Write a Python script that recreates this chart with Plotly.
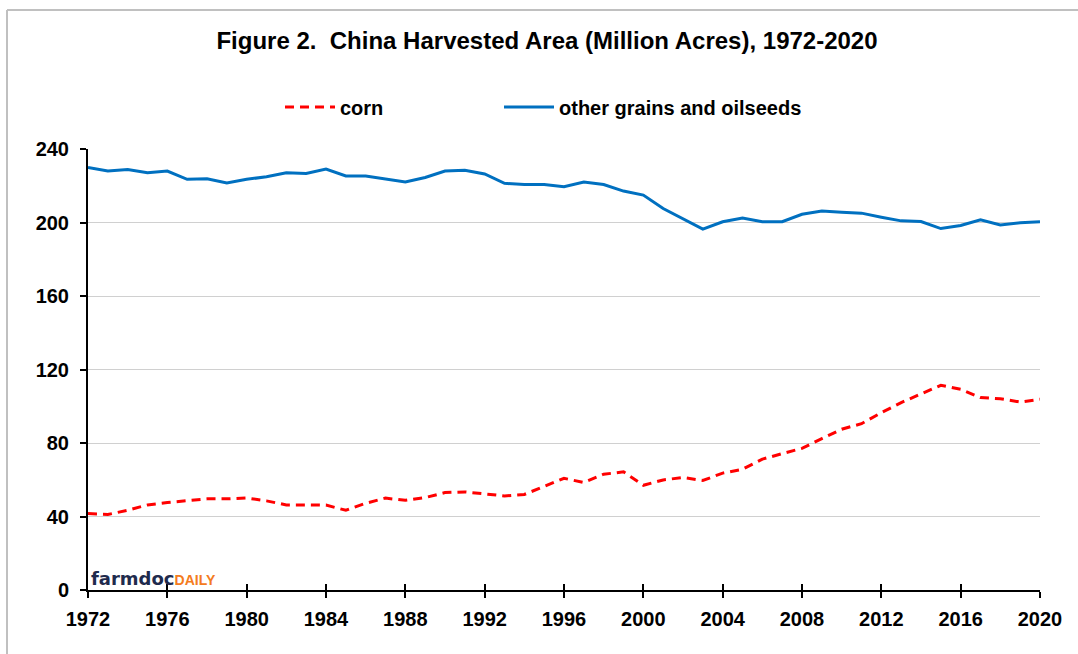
import plotly.graph_objects as go

years = list(range(1972, 2021))
corn = [41.6, 41.1, 43.4, 46.3, 47.6, 48.7, 49.6, 49.6, 50.1, 48.5,
        46.3, 46.3, 46.2, 43.4, 47.2, 50.0, 48.8, 50.3, 53.0, 53.4,
        52.1, 51.2, 52.0, 56.3, 60.8, 58.5, 63.0, 64.3, 57.0, 59.9,
        61.2, 59.6, 63.6, 65.7, 71.2, 74.2, 77.1, 82.4, 87.5, 90.5,
        96.5, 102.0, 106.5, 111.4, 109.2, 104.7, 104.1, 102.3, 103.8]
other = [230.0, 228.0, 228.9, 227.1, 228.0, 223.5, 223.8, 221.5, 223.5, 224.9,
         227.1, 226.7, 229.1, 225.3, 225.3, 223.6, 222.0, 224.5, 228.0, 228.4,
         226.4, 221.3, 220.7, 220.7, 219.5, 222.0, 220.7, 217.1, 214.9, 207.6,
         202.0, 196.4, 200.4, 202.4, 200.4, 200.4, 204.5, 206.2, 205.6, 205.1,
         202.9, 200.9, 200.5, 196.7, 198.4, 201.5, 198.7, 199.8, 200.4]
x_ticks = list(range(1972, 2021, 4))
y_ticks = list(range(0, 241, 40))

FONT = "Arial, Liberation Sans, sans-serif"
W, H = 1078, 654
L, R, T, B = 88, 38, 149, 64
pw, ph = W - L - R, H - T - B

fig = go.Figure()
fig.add_trace(go.Scatter(x=years, y=corn, name="corn", mode="lines",
                         line=dict(color="#FF0000", width=3, dash="9px,6px"),
                         legend="legend"))
fig.add_trace(go.Scatter(x=years, y=other, name="other grains and oilseeds", mode="lines",
                         line=dict(color="#0070C0", width=3),
                         legend="legend2"))
# invisible trace to carry the inside-tick overlay axis
fig.add_trace(go.Scatter(x=[years[0]], y=[corn[0]], xaxis="x2", mode="lines",
                         showlegend=False, hoverinfo="skip", opacity=0))

bold = dict(family=FONT, color="black", weight="bold")
fig.update_layout(
    width=W, height=H,
    margin=dict(l=L, r=R, t=T, b=B),
    paper_bgcolor="white", plot_bgcolor="white",
    font=dict(family=FONT, color="black"),
    title=dict(text="<b>Figure 2.  China Harvested Area (Million Acres), 1972-2020</b>",
               x=547 / W, xanchor="center", xref="container",
               y=1 - 41 / H, yanchor="middle", yref="container",
               font=dict(size=24, family=FONT, color="black")),
    xaxis=dict(range=[1972, 2020], tickmode="array", tickvals=x_ticks,
               ticks="outside", ticklen=6, tickwidth=2, tickcolor="black",
               showline=True, linecolor="black", linewidth=2,
               showgrid=False, zeroline=False,
               tickfont=dict(size=20, **bold),
               ticklabelstandoff=4),
    xaxis2=dict(range=[1972, 2020], tickmode="array", tickvals=x_ticks,
                overlaying="x", side="bottom", anchor="y",
                ticks="inside", ticklen=6, tickwidth=2, tickcolor="black",
                showticklabels=False, showgrid=False, zeroline=False, showline=False),
    yaxis=dict(range=[0, 240], tickmode="array", tickvals=y_ticks,
               ticks="outside", ticklen=6, tickwidth=2, tickcolor="black",
               showline=True, linecolor="black", linewidth=2,
               showgrid=True, gridcolor="#D0D0D0", gridwidth=1, zeroline=False,
               tickfont=dict(size=20, **bold),
               ticklabelstandoff=7),
    legend=dict(orientation="h", xref="container", yref="container",
                x=280 / W, xanchor="left", y=1 - 107 / H, yanchor="middle",
                itemwidth=50,
                font=dict(size=20, **bold),
                bgcolor="rgba(0,0,0,0)"),
    legend2=dict(orientation="h", xref="container", yref="container",
                 x=499 / W, xanchor="left", y=1 - 107 / H, yanchor="middle",
                 itemwidth=50,
                 font=dict(size=20, **bold),
                 bgcolor="rgba(0,0,0,0)"),
)

# light gray outer frame (top and left edges visible in the original)
fx0 = (7 - L) / pw
fy0 = (H - B - 10) / ph
fig.add_shape(type="line", xref="paper", yref="paper",
              x0=fx0, x1=(W - L) / pw + 0.01, y0=fy0, y1=fy0,
              line=dict(color="#C0C0C0", width=2))
fig.add_shape(type="line", xref="paper", yref="paper",
              x0=fx0, x1=fx0, y0=fy0, y1=-(B + 5) / ph,
              line=dict(color="#C0C0C0", width=2))

# farmdoc daily logo text
fig.add_annotation(xref="paper", yref="paper", x=(89 - L) / pw, y=(H - B - 578) / ph,
                   xanchor="left", yanchor="middle", showarrow=False,
                   text="<b><span style='color:#1F2B4D'>farmdoc</span>"
                        "<span style='color:#F47B20;font-size:14px;"
                        "font-family:Arial, Liberation Sans, sans-serif'>DAILY</span></b>",
                   font=dict(size=18, family="Verdana, DejaVu Sans, sans-serif"))

fig.write_html("out.html")
